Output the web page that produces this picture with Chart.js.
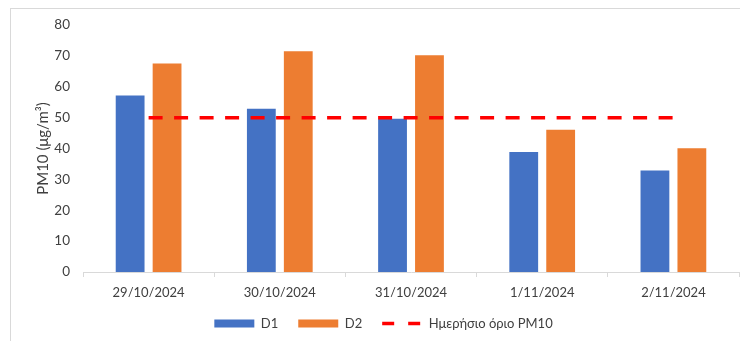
<!DOCTYPE html>
<html>
<head>
<meta charset="utf-8">
<script src="https://cdn.jsdelivr.net/npm/chart.js@4/dist/chart.umd.min.js"></script>
<style>
  html, body { margin: 0; padding: 0; background: #fff; }
</style>
</head>
<body>
<canvas id="pmChart" width="740" height="341"></canvas>
<script>
const categories = ['29/10/2024', '30/10/2024', '31/10/2024', '1/11/2024', '2/11/2024'];
const d1Values = [57.2, 52.9, 49.6, 38.9, 32.9];
const d2Values = [67.5, 71.5, 70.2, 46.1, 40.1];
const limitValues = [50, 50, 50, 50, 50];
const yTicks = [0, 10, 20, 30, 40, 50, 60, 70, 80];

const textColor = '#404040';
const fontFamily = 'Lato, "Open Sans", sans-serif';

// outer frame like the spreadsheet chart box
const framePlugin = {
    id: 'frame',
    beforeDraw(chart) {
        const ctx = chart.ctx;
        ctx.save();
        ctx.fillStyle = '#fff';
        ctx.fillRect(0, 0, chart.width, chart.height);
        ctx.strokeStyle = '#d9d9d9';
        ctx.lineWidth = 1;
        ctx.strokeRect(10.5, 8.5, chart.width, chart.height + 20);
        ctx.restore();
    }
};

new Chart(document.getElementById('pmChart'), {
    type: 'bar',
    data: {
        labels: categories,
        datasets: [
            {
                label: 'D1',
                data: d1Values,
                backgroundColor: '#4472C4',
                pointStyle: 'rect',
                categoryPercentage: 0.563,
                barPercentage: 0.78
            },
            {
                label: 'D2',
                data: d2Values,
                backgroundColor: '#ED7D31',
                pointStyle: 'rect',
                categoryPercentage: 0.563,
                barPercentage: 0.78
            },
            {
                type: 'line',
                label: 'Ημερήσιο όριο PM10',
                data: limitValues,
                borderColor: '#FF0000',
                backgroundColor: '#FF0000',
                borderWidth: 3.5,
                borderDash: [14, 11.5],
                pointRadius: 0,
                pointStyle: 'line',
                order: -1
            }
        ]
    },
    options: {
        responsive: false,
        animation: false,
        layout: { padding: { left: 28, right: 1, top: 25, bottom: 1 } },
        scales: {
            x: {
                grid: { display: true, drawOnChartArea: false, drawTicks: true, tickLength: 5, color: '#d9d9d9', offset: true },
                border: { display: true, color: '#d9d9d9' },
                ticks: { color: textColor, font: { family: fontFamily, size: 13 }, padding: 8, maxRotation: 0 },
                afterFit(scale) { scale.height = 25; }
            },
            y: {
                min: 0,
                max: 80,
                afterBuildTicks(scale) { scale.ticks = yTicks.map(v => ({ value: v })); },
                grid: { display: false },
                border: { display: false },
                ticks: { color: textColor, font: { family: fontFamily, size: 13.5 }, padding: 5 },
                title: {
                    display: true,
                    text: 'PM10 (μg/m³)',
                    color: textColor,
                    font: { family: fontFamily, size: 15 },
                    padding: { top: 6, bottom: 0 }
                },
                afterFit(scale) { scale.width = 55; }
            }
        },
        plugins: {
            legend: {
                position: 'bottom',
                labels: {
                    usePointStyle: true,
                    pointStyleWidth: 40,
                    boxHeight: 8,
                    padding: 20,
                    color: textColor,
                    font: { family: fontFamily, size: 13 },
                    sort: (a, b) => a.datasetIndex - b.datasetIndex,
                    generateLabels(chart) {
                        const items = Chart.defaults.plugins.legend.labels.generateLabels(chart);
                        items.forEach(item => {
                            const ds = chart.data.datasets[item.datasetIndex];
                            if (ds.type === 'line') {
                                item.lineDash = [12, 14];
                                item.lineWidth = 3.5;
                                item.strokeStyle = ds.borderColor;
                            }
                        });
                        return items;
                    }
                }
            },
            tooltip: { enabled: false }
        }
    },
    plugins: [framePlugin]
});
</script>
</body>
</html>
